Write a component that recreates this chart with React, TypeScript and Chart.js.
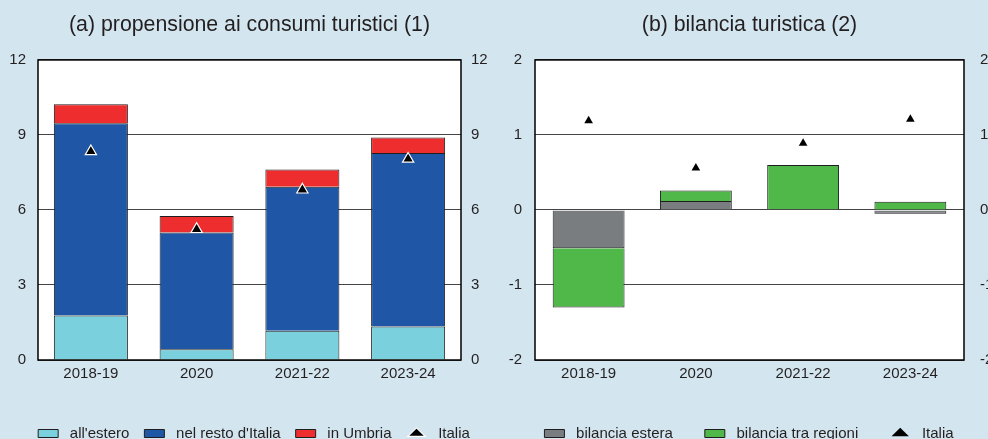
import { useEffect, useRef } from 'react';
import { Chart, registerables } from 'chart.js';

Chart.register(...registerables);

// ---------- data ----------
const categories = ['2018-19', '2020', '2021-22', '2023-24'];

// (a) propensione ai consumi turistici
const estero = [1.78, 0.43, 1.17, 1.34];
const restoItalia = [7.69, 4.67, 5.76, 6.94];
const umbria = [0.76, 0.66, 0.69, 0.62];
const italiaA = [8.34, 5.23, 6.81, 8.04];
const ticksA = { min: 0, max: 12, step: 3 };

// (b) bilancia turistica
const bilanciaEstera = [-0.51, 0.12, 0.01, -0.05];
const bilanciaRegioni = [-0.79, 0.14, 0.59, 0.11];
const italiaB = [1.19, 0.56, 0.89, 1.21];
const ticksB = { min: -2, max: 2, step: 1 };

// ---------- style ----------
const FONT = "'Liberation Sans', Arial, Helvetica, sans-serif";
const TEXT = '#231f20';
const BG = '#d3e5ef';
const GRID = '#444444';
const EDGE = '#1e1e1e';

const framePlugin = {
  id: 'frame',
  beforeDraw(chart: any) {
    const { ctx, chartArea: a } = chart;
    ctx.save();
    ctx.fillStyle = '#ffffff';
    ctx.fillRect(a.left, a.top, a.right - a.left, a.bottom - a.top);
    ctx.restore();
  },
  afterDraw(chart: any) {
    const { ctx, chartArea: a } = chart;
    ctx.save();
    ctx.strokeStyle = '#000000';
    ctx.lineWidth = 1.5;
    ctx.strokeRect(a.left, a.top, a.right - a.left, a.bottom - a.top);
    ctx.restore();
  },
};

type Panel = {
  title: string;
  datasets: any[];
  ticks: { min: number; max: number; step: number };
  leftW: number;
  rightW: number;
  leftPad: number;
  rightPad: number;
  xH: number;
  legendPad: number;
  width: number;
  height: number;
  left: number;
};

function buildConfig(p: Panel): any {
  const tickFont = { size: 15, family: FONT };
  return {
    type: 'bar',
    data: { labels: categories, datasets: p.datasets },
    plugins: [framePlugin],
    options: {
      responsive: false,
      animation: false,
      events: [],
      devicePixelRatio: 1,
      layout: { padding: 0 },
      plugins: {
        tooltip: { enabled: false },
        title: {
          display: true,
          text: p.title,
          fullSize: false,
          color: TEXT,
          font: { size: 21.3, weight: 'normal', family: FONT, lineHeight: 1.2 },
          padding: { top: 12, bottom: 22.4 },
        },
        legend: {
          display: true,
          position: 'bottom',
          align: 'center',
          fullSize: true,
          labels: {
            usePointStyle: true,
            pointStyleWidth: 20,
            boxHeight: 8,
            padding: p.legendPad,
            color: TEXT,
            font: { size: 15, family: FONT },
            sort: (a: any, b: any) => a.datasetIndex - b.datasetIndex,
            generateLabels: (chart: any) => {
              const items = (Chart.defaults as any).plugins.legend.labels.generateLabels(chart);
              return items.map((it: any) => {
                const ds = chart.data.datasets[it.datasetIndex];
                return {
                  ...it,
                  text: ' ' + it.text,
                  pointStyle: ds.type === 'line' ? 'triangle' : 'rect',
                };
              });
            },
          },
        },
      },
      scales: {
        x: {
          stacked: true,
          grid: { display: false, drawTicks: false },
          border: { display: false },
          ticks: { padding: 5, color: TEXT, font: tickFont },
          afterFit: (s: any) => {
            s.height = p.xH;
          },
        },
        y: {
          stacked: true,
          position: 'left',
          min: p.ticks.min,
          max: p.ticks.max,
          grid: { color: GRID, lineWidth: 1, drawTicks: false },
          border: { display: false },
          ticks: { stepSize: p.ticks.step, padding: p.leftPad, color: TEXT, font: tickFont },
          afterFit: (s: any) => {
            s.width = p.leftW;
          },
        },
        y2: {
          position: 'right',
          min: p.ticks.min,
          max: p.ticks.max,
          grid: { display: false, drawTicks: false },
          border: { display: false },
          ticks: { stepSize: p.ticks.step, padding: p.rightPad, color: TEXT, font: tickFont },
          afterFit: (s: any) => {
            s.width = p.rightW;
          },
        },
      },
    },
  };
}

function barSet(label: string, data: number[], color: string, pct: number) {
  return {
    type: 'bar',
    label,
    data,
    backgroundColor: color,
    borderColor: EDGE,
    borderWidth: 1,
    stack: 'bars',
    order: 1,
    barPercentage: pct,
    categoryPercentage: 1,
  };
}

function pointSet(data: number[], radius: number, border: string, bw: number) {
  return {
    type: 'line',
    label: 'Italia',
    data,
    showLine: false,
    stack: 'italia',
    order: 0,
    pointStyle: 'triangle',
    pointRadius: radius,
    pointHoverRadius: radius,
    pointBackgroundColor: '#000000',
    pointBorderColor: border,
    pointBorderWidth: bw,
    backgroundColor: '#000000',
    borderColor: border,
    borderWidth: bw,
  };
}

const panelA: Panel = {
  title: '(a) propensione ai consumi turistici (1)',
  datasets: [
    barSet("all'estero", estero, '#7ad0dc', 0.7),
    barSet("nel resto d'Italia", restoItalia, '#1f56a5', 0.7),
    barSet('in Umbria', umbria, '#ee2e2e', 0.7),
    pointSet(italiaA, 6.5, '#ffffff', 1.2),
  ],
  ticks: ticksA,
  leftW: 38,
  rightW: 47,
  leftPad: 12,
  rightPad: 10,
  xH: 51,
  legendPad: 15,
  width: 508,
  height: 451,
  left: 0,
};

const panelB: Panel = {
  title: '(b) bilancia turistica (2)',
  datasets: [
    barSet('bilancia estera', bilanciaEstera, '#7a7d80', 0.67),
    barSet('bilancia tra regioni', bilanciaRegioni, '#50b848', 0.67),
    pointSet(italiaB, 5, '#000000', 0),
  ],
  ticks: ticksB,
  leftW: 41,
  rightW: 40,
  leftPad: 13,
  rightPad: 16,
  xH: 34,
  legendPad: 32,
  width: 510,
  height: 451,
  left: 494,
};

function ChartPanel({ panel }: { panel: Panel }) {
  const ref = useRef<HTMLCanvasElement | null>(null);
  useEffect(() => {
    if (!ref.current) return;
    const chart = new Chart(ref.current, buildConfig(panel));
    return () => chart.destroy();
  }, [panel]);
  return (
    <canvas
      ref={ref}
      width={panel.width}
      height={panel.height}
      style={{
        position: 'absolute',
        left: panel.left,
        top: 0,
        width: panel.width,
        height: panel.height,
      }}
    />
  );
}

export default function App() {
  return (
    <div
      style={{
        position: 'absolute',
        left: 0,
        top: 0,
        width: 988,
        height: 439,
        overflow: 'hidden',
        background: BG,
      }}
    >
      <ChartPanel panel={panelA} />
      <ChartPanel panel={panelB} />
    </div>
  );
}
